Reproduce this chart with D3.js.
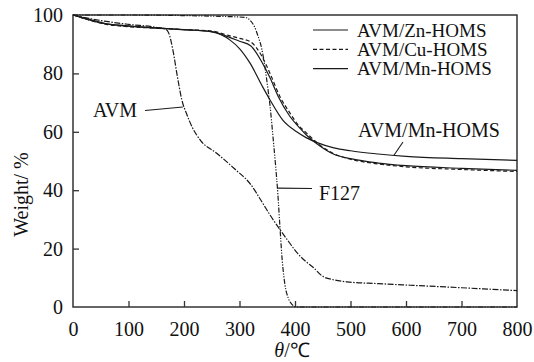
<!DOCTYPE html>
<html>
<head>
<meta charset="utf-8">
<script src="https://cdn.jsdelivr.net/npm/d3@7"></script>
<style>
  body { margin: 0; background: #fff; }
  text { font-family: "Liberation Serif", "Times New Roman", serif; fill: #111; }
  .line { fill: none; stroke: #1a1a1a; stroke-width: 1.2; }
  .frame { fill: none; stroke: #333; stroke-width: 1.5; }
  .tick line { stroke: #333; stroke-width: 1.3; }
</style>
</head>
<body>
<div id="tga"></div>
<script>
(function(){

  // TGA curves: [temperature C, weight %]
  var zn = [[0,100],[30,98.5],[60,97],[100,96.3],[150,95.6],[200,95],[250,94.3],[280,92.5],[300,91],[320,89.5],
            [340,84],[355,78.5],[370,72],[390,65.5],[410,61],[420,59],[440,55.8],[470,52.3],[500,50.8],[550,49.3],
            [600,48.4],[700,47.5],[800,46.8]];
  var cu = [[0,100],[30,98.2],[60,96.8],[100,96],[150,95.5],[200,95],[250,94.5],[280,93],[300,92],[320,90.8],
            [340,86],[355,80],[373,72],[391,66.4],[405,62.5],[420,59.7],[440,56.2],[470,52.5],[500,50.6],[550,49],
            [600,48],[700,47.1],[800,46.4]];
  var mn = [[0,100],[20,98.8],[50,97.3],[80,96.5],[150,95.5],[200,95],[250,94.2],[283,91.4],[300,88.5],[319,83.5],
            [342,75.3],[355,70.9],[378,64],[403,60],[420,58],[440,56.3],[470,54.5],[500,53.5],[550,52.4],[600,51.6],
            [700,50.8],[800,50.2]];
  var avm = [[0,100],[30,98.8],[60,97.8],[100,96.8],[150,95.8],[165,95.3],[172,94],[180,88],[188,79],[196,71],
             [205,66],[215,61.5],[230,57],[260,52.5],[290,47.5],[320,42],[342,35.5],[355,31.5],[373,26.5],[390,22],
             [404,18.5],[420,15.5],[432,13.7],[450,10.5],[470,9.3],[494,8.6],[550,8],[613,7.4],[700,6.6],[800,5.6]];
  var f127 = [[0,100],[100,100],[200,99.8],[250,99.6],[310,99.2],[320,98],[327,96],[333,93],[340,88.5],[346,82],
              [351,75],[355,69],[360,59],[365,48.5],[369,39],[373,27],[377,16],[382,7.5],[388,3],[395,0.8],
              [402,0],[800,0]];

  var series = [
    { name: 'AVM/Zn-HOMS', values: zn,   dash: null,                    width: 1.2, legend: true },
    { name: 'AVM/Cu-HOMS', values: cu,   dash: '4,2.5',                 width: 1.2, legend: true },
    { name: 'AVM/Mn-HOMS', values: mn,   dash: null,                    width: 1.6, legend: true },
    { name: 'AVM',         values: avm,  dash: '6,1.5,1.5,1.5',         width: 1.1, legend: false },
    { name: 'F127',        values: f127, dash: '5,1.5,1.2,1.5,1.2,1.5', width: 1.1, legend: false }
  ];

  var xTicks = [0, 100, 200, 300, 400, 500, 600, 700, 800];
  var yTicks = [0, 20, 40, 60, 80, 100];

  var margin = { top: 15, right: 17, bottom: 55, left: 73 };
  var width = 534 - margin.left - margin.right;
  var height = 362 - margin.top - margin.bottom;

  var x = d3.scaleLinear().domain([0, 800]).range([0, width]);
  var y = d3.scaleLinear().domain([0, 100]).range([height, 0]);

  var line = d3.line()
        .x(function(d){ return x(d[0]); })
        .y(function(d){ return y(d[1]); })
        .curve(d3.curveMonotoneX);

  var svg = d3.select('#tga')
        .append('svg')
          .attr('width', width + margin.left + margin.right)
          .attr('height', height + margin.top + margin.bottom)
        .append('g')
          .attr('transform', 'translate(' + margin.left + ',' + margin.top + ')');

  // axes, ticks pointing inward
  var xAxis = svg.append('g')
    .attr('transform', 'translate(0,' + height + ')')
    .call(d3.axisBottom(x).tickValues(xTicks).tickSizeInner(-6).tickSizeOuter(0).tickPadding(12));
  var yAxis = svg.append('g')
    .call(d3.axisLeft(y).tickValues(yTicks).tickSizeInner(-6).tickSizeOuter(0).tickPadding(10));

  [xAxis, yAxis].forEach(function(a){
    a.select('.domain').remove();
    a.selectAll('text').attr('font-size', 20).attr('fill', '#111')
      .style('font-family', '"Liberation Serif", serif');
  });
  xAxis.selectAll('text').attr('dy', '0.85em');
  xAxis.selectAll('.tick').filter(function(d){ return d === 0 || d === 800; }).select('line').remove();
  yAxis.selectAll('.tick').filter(function(d){ return d === 0 || d === 100; }).select('line').remove();

  svg.append('rect')
    .attr('class', 'frame')
    .attr('width', width)
    .attr('height', height);

  svg.selectAll('path.line')
    .data(series)
    .enter().append('path')
      .attr('class', 'line')
      .attr('stroke-dasharray', function(d){ return d.dash; })
      .attr('stroke-width', function(d){ return d.width; })
      .attr('d', function(d){ return line(d.values); });

  // legend
  var legend = svg.append('g').attr('transform', 'translate(240,15)');
  var items = legend.selectAll('g')
    .data(series.filter(function(d){ return d.legend; }))
    .enter().append('g')
      .attr('transform', function(d, i){ return 'translate(0,' + (i * 19.3) + ')'; });
  items.append('line')
    .attr('class', 'line')
    .attr('x1', 0).attr('x2', 35)
    .attr('stroke-width', 1.2)
    .attr('stroke-dasharray', function(d){ return d.dash; });
  items.append('text')
    .attr('x', 44).attr('y', 6.5)
    .attr('font-size', 19)
    .text(function(d){ return d.name; });

  // callout labels with leader lines
  var callouts = [
    { text: 'AVM',         at: [198, 68.5], from: [145 - margin.left, 110.5 - margin.top], tx: 20,  ty: 117 },
    { text: 'F127',        at: [368, 40.7], from: [312 - margin.left, 188.5 - margin.top], tx: 246, ty: 200 },
    { text: 'AVM/Mn-HOMS', at: [578, 51.9], from: [403 - margin.left, 142 - margin.top],   tx: 285, ty: 137 }
  ];
  callouts.forEach(function(c){
    svg.append('line')
      .attr('x1', x(c.at[0])).attr('y1', y(c.at[1]))
      .attr('x2', c.from[0]).attr('y2', c.from[1])
      .attr('stroke', '#1a1a1a').attr('stroke-width', 1.1);
    svg.append('text')
      .attr('x', c.tx).attr('y', c.ty - margin.top)
      .attr('font-size', 20)
      .text(c.text);
  });

  // axis titles
  svg.append('text')
    .attr('transform', 'translate(' + (-45) + ',' + (192 - margin.top) + ') rotate(-90)')
    .attr('text-anchor', 'middle')
    .attr('font-size', 20)
    .call(function(t){
      t.append('tspan').text('Weight');
      t.append('tspan').attr('letter-spacing', 5).text('/%');
    });

  svg.append('text')
    .attr('x', 292 - margin.left).attr('y', 357 - margin.top)
    .attr('text-anchor', 'middle')
    .attr('font-size', 20)
    .call(function(t){
      t.append('tspan').attr('font-style', 'italic').text('θ');
      t.append('tspan').text('/℃');
    });

})();
</script>
</body>
</html>
